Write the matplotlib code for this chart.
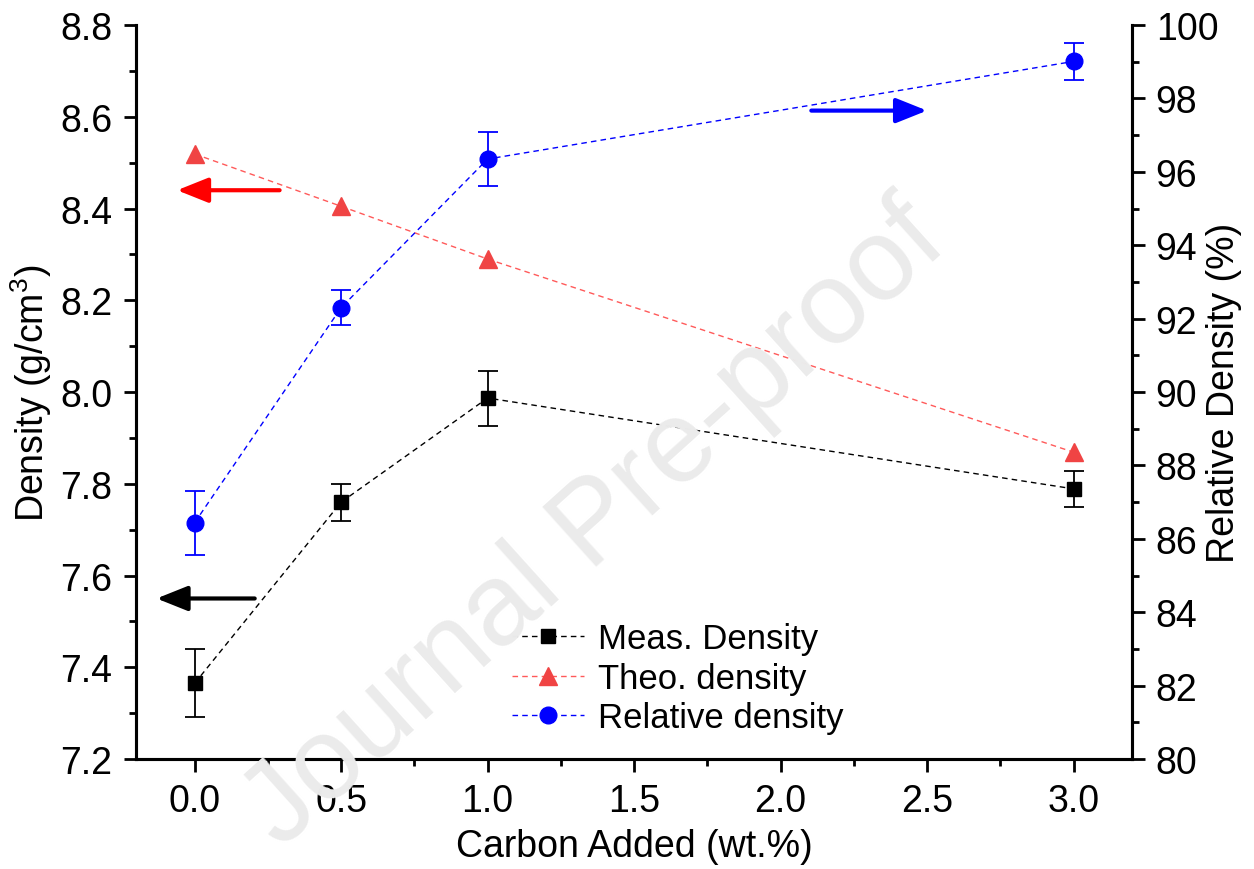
import matplotlib
matplotlib.use('Agg')
import matplotlib.pyplot as plt
from matplotlib.ticker import MultipleLocator, FormatStrFormatter
from matplotlib.lines import Line2D

plt.rcParams['font.family'] = ['Liberation Sans', 'DejaVu Sans']
plt.rcParams['mathtext.fontset'] = 'custom'
plt.rcParams['mathtext.rm'] = 'Liberation Sans'
plt.rcParams['mathtext.it'] = 'Liberation Sans:italic'

# Datos
carbono = [0.0, 0.5, 1.0, 3.0]
dens_medida = [7.365, 7.76, 7.987, 7.789]
err_medida = [0.074, 0.04, 0.06, 0.04]
dens_teorica = [8.519, 8.405, 8.29, 7.869]
dens_relativa = [86.44, 92.3, 96.35, 99.01]
err_relativa = [0.87, 0.48, 0.73, 0.51]

xticks = [0.0, 0.5, 1.0, 1.5, 2.0, 2.5, 3.0]
etiquetas = ['Meas. Density', 'Theo. density', 'Relative density']

fig = plt.figure(figsize=(12.54, 8.7), dpi=100)
ax = fig.add_axes([0.1085, 0.1264, 0.7943, 0.8436])
ax2 = ax.twinx()

# Marca de agua
fig.text(0.475, 0.395, 'Journal Pre-proof', fontsize=84, color='#ebebeb',
         rotation=42, ha='center', va='center', zorder=0)
ax.patch.set_alpha(0)
ax2.patch.set_alpha(0)

dash = (0, (4, 3))
ax.errorbar(carbono, dens_medida, yerr=err_medida, color='black', ls=dash, lw=1,
            marker='s', ms=10.5, capsize=7, elinewidth=1.3, capthick=1.3)
ax.plot(carbono, dens_teorica, color='#ff5a5a', ls=dash, lw=1,
        marker='^', ms=13, mfc='#f04444', mec='#f04444')
ax2.errorbar(carbono, dens_relativa, yerr=err_relativa, color='blue', ls=dash, lw=1,
             marker='o', ms=12, capsize=7, elinewidth=1.3, capthick=1.3)

# Flechas indicando el eje
estilo = '-|>,head_length=1.0,head_width=0.4'
ax.annotate('', xy=(-0.06, 8.44), xytext=(0.29, 8.44),
            arrowprops=dict(arrowstyle=estilo, color='red', lw=3, mutation_scale=19,
                            shrinkA=0, shrinkB=0))
ax.annotate('', xy=(-0.13, 7.55), xytext=(0.205, 7.55),
            arrowprops=dict(arrowstyle=estilo, color='black', lw=3, mutation_scale=19,
                            shrinkA=0, shrinkB=0))
ax2.annotate('', xy=(2.5, 97.67), xytext=(2.105, 97.67),
             arrowprops=dict(arrowstyle=estilo, color='blue', lw=3, mutation_scale=19,
                             shrinkA=0, shrinkB=0))

ax.set_xlim(-0.2, 3.2)
ax.set_ylim(7.2, 8.8)
ax2.set_ylim(80, 100)
ax.set_xticks(xticks)
ax.set_xticklabels([f'{t:.1f}' for t in xticks])
ax.xaxis.set_minor_locator(MultipleLocator(0.25))
ax.yaxis.set_major_locator(MultipleLocator(0.2))
ax.yaxis.set_minor_locator(MultipleLocator(0.1))
ax2.yaxis.set_major_locator(MultipleLocator(2))
ax2.yaxis.set_minor_locator(MultipleLocator(1))
ax.yaxis.set_major_formatter(FormatStrFormatter('%.1f'))

for a in (ax, ax2):
    a.spines['top'].set_visible(False)
    for s in a.spines.values():
        s.set_linewidth(2.2)
    a.tick_params(which='major', direction='out', length=9, width=2, labelsize=27, pad=8)
    a.tick_params(which='minor', direction='out', length=5, width=2)

ax.set_xlabel('Carbon Added (wt.%)', fontsize=27, labelpad=7)
ax.set_ylabel('Density (g/cm$^3$)', fontsize=27)
ax2.set_ylabel('Relative Density (%)', fontsize=27)
ax.yaxis.set_label_coords(-0.082, 0.5)
ax2.yaxis.set_label_coords(1.074, 0.5)

handles = [
    Line2D([], [], color='black', ls=dash, lw=1, marker='s', ms=10.5),
    Line2D([], [], color='#ff5a5a', ls=dash, lw=1, marker='^', ms=13, mfc='#f04444', mec='#f04444'),
    Line2D([], [], color='blue', ls=dash, lw=1, marker='o', ms=12),
]
ax2.legend(handles, etiquetas, loc='upper left', bbox_to_anchor=(0.363, 0.205),
           frameon=False, fontsize=25, handlelength=2.1, labelspacing=0.18,
           handletextpad=0.4, borderaxespad=0)

fig.savefig('out.png', dpi=100)
